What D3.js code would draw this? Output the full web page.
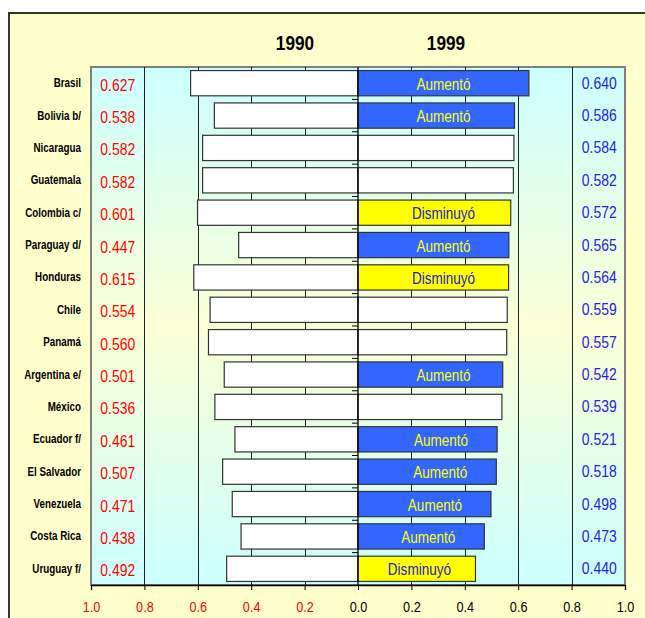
<!DOCTYPE html>
<html>
<head>
<meta charset="utf-8">
<script src="https://cdn.jsdelivr.net/npm/d3@7"></script>
<style>
  html, body { margin: 0; padding: 0; background: #ffffff; }
  svg { display: block; }
  text { font-family: "Liberation Sans Narrow", "Arial Narrow", "Liberation Sans", Arial, sans-serif; }
</style>
</head>
<body>
<svg id="chart" width="645" height="618"></svg>
<script>
const countries = ["Brasil", "Bolivia b/", "Nicaragua", "Guatemala", "Colombia c/", "Paraguay d/", "Honduras", "Chile", "Panamá", "Argentina e/", "México", "Ecuador f/", "El Salvador", "Venezuela", "Costa Rica", "Uruguay f/"];
const values1990 = [0.627, 0.538, 0.582, 0.582, 0.601, 0.447, 0.615, 0.554, 0.560, 0.501, 0.536, 0.461, 0.507, 0.471, 0.438, 0.492];
const values1999 = [0.640, 0.586, 0.584, 0.582, 0.572, 0.565, 0.564, 0.559, 0.557, 0.542, 0.539, 0.521, 0.518, 0.498, 0.473, 0.440];
const changeLabels = ["Aumentó", "Aumentó", "", "", "Disminuyó", "Aumentó", "Disminuyó", "", "", "Aumentó", "", "Aumentó", "Aumentó", "Aumentó", "Aumentó", "Disminuyó"];
const yearTitles = ["1990", "1999"];
const tickValues = [-1, -0.8, -0.6, -0.4, -0.2, 0, 0.2, 0.4, 0.6, 0.8, 1];

const rows = countries.map((c, i) => ({ c, v90: values1990[i], v99: values1999[i], lab: changeLabels[i] }));

const svg = d3.select("#chart");
const W = 645, H = 618;
const plot = { left: 91, right: 625, top: 67, bottom: 585 };

// narrow-font emulation: check whether a condensed font is present
const probe = svg.append("text").attr("font-size", 20).text("Aumentó 0.627");
const probeW = probe.node().getComputedTextLength();
probe.remove();
const SX = probeW > 110 ? 0.82 : 1;

const x = d3.scaleLinear().domain([-1, 1]).range([plot.left, plot.right]);
const y = d3.scaleBand().domain(countries).range([plot.top, plot.bottom]).paddingInner(0.22).paddingOuter(0.11);
const yStep = (plot.bottom - plot.top) / countries.length;

function narrowText(sel, fx, fy) {
  return sel.attr("x", 0).attr("y", 0)
    .attr("transform", (d, i) => `translate(${fx(d, i)},${fy(d, i)}) scale(${SX},1)`);
}

// Gradient
const defs = svg.append("defs");
const grad = defs.append("linearGradient").attr("id", "bg").attr("x1", 0).attr("y1", 0).attr("x2", 0).attr("y2", 1);
grad.append("stop").attr("offset", "0%").attr("stop-color", "#ccffff");
grad.append("stop").attr("offset", "50%").attr("stop-color", "#fbffd6");
grad.append("stop").attr("offset", "100%").attr("stop-color", "#ccffff");

// Outer frame
svg.append("rect").attr("x", 9).attr("y", 13).attr("width", W + 20).attr("height", H + 20)
  .attr("fill", "#ffffcc").attr("stroke", "#333333").attr("stroke-width", 2);

// Plot area
svg.append("rect").attr("x", plot.left).attr("y", plot.top)
  .attr("width", plot.right - plot.left).attr("height", plot.bottom - plot.top)
  .attr("fill", "url(#bg)").attr("stroke", "#808080").attr("stroke-width", 2);

// Gridlines
svg.append("g").selectAll("line").data(tickValues.filter(t => Math.abs(t) > 0.01 && Math.abs(t) < 0.99))
  .join("line")
  .attr("x1", d => Math.round(x(d)) + 0.5).attr("x2", d => Math.round(x(d)) + 0.5)
  .attr("y1", plot.top).attr("y2", plot.bottom)
  .attr("stroke", "#222222").attr("stroke-width", 1);

// Titles
narrowText(svg.append("g").selectAll("text").data(yearTitles).join("text"),
    (d, i) => i === 0 ? 295 : 446, () => 50)
  .attr("text-anchor", "middle")
  .attr("font-size", 21).attr("font-weight", "bold").attr("fill", "#000")
  .text(d => d);

// Bars 1990 (left)
svg.append("g").selectAll("rect").data(rows).join("rect")
  .attr("x", d => x(-d.v90)).attr("y", d => y(d.c))
  .attr("width", d => x(0) - x(-d.v90)).attr("height", y.bandwidth())
  .attr("fill", "#ffffff").attr("stroke", "#333333").attr("stroke-width", 1.2);

// Bars 1999 (right)
const fillFor = l => l === "Aumentó" ? "#3366ff" : (l === "Disminuyó" ? "#ffff00" : "#ffffff");
svg.append("g").selectAll("rect").data(rows).join("rect")
  .attr("x", x(0)).attr("y", d => y(d.c))
  .attr("width", d => x(d.v99) - x(0)).attr("height", y.bandwidth())
  .attr("fill", d => fillFor(d.lab)).attr("stroke", "#333333").attr("stroke-width", 1.2);

// Change labels
narrowText(svg.append("g").selectAll("text").data(rows.filter(d => d.lab)).join("text"),
    d => x(Math.min(0.32, d.v99 - 0.21)),
    d => y(d.c) + y.bandwidth() / 2 + 6.5)
  .attr("text-anchor", "middle")
  .attr("font-size", 16.5)
  .attr("fill", d => d.lab === "Aumentó" ? "#ffff00" : "#2222cc")
  .text(d => d.lab);

// Zero line
svg.append("line").attr("x1", x(0)).attr("x2", x(0)).attr("y1", plot.top).attr("y2", plot.bottom)
  .attr("stroke", "#000").attr("stroke-width", 1.3);
// Category ticks on zero line
svg.append("g").selectAll("line").data(d3.range(1, countries.length)).join("line")
  .attr("x1", x(0) - 6).attr("x2", x(0))
  .attr("y1", d => plot.top + d * yStep).attr("y2", d => plot.top + d * yStep)
  .attr("stroke", "#000").attr("stroke-width", 1);

// Value labels
narrowText(svg.append("g").selectAll("text").data(rows).join("text"),
    () => (x(-1) + x(-0.8)) / 2, d => y(d.c) + y.bandwidth() / 2 + 7.5)
  .attr("text-anchor", "middle").attr("font-size", 17).attr("fill", "#ff0000")
  .text(d => d.v90.toFixed(3));
narrowText(svg.append("g").selectAll("text").data(rows).join("text"),
    () => (x(1) + x(0.8)) / 2 + 1, d => y(d.c) + y.bandwidth() / 2 + 5.5)
  .attr("text-anchor", "middle").attr("font-size", 17).attr("fill", "#2222ee")
  .text(d => d.v99.toFixed(3));

// Country labels
narrowText(svg.append("g").selectAll("text").data(rows).join("text"),
    () => 81, d => y(d.c) + y.bandwidth() / 2 + 4)
  .attr("text-anchor", "end").attr("font-size", 12).attr("font-weight", "bold").attr("fill", "#000")
  .text(d => d.c);

// X axis
const axis = d3.axisBottom(x).tickValues(tickValues).tickSize(5).tickPadding(11.5)
  .tickFormat(d => Math.abs(d).toFixed(1));
const gx = svg.append("g").attr("transform", `translate(0,${plot.bottom})`).call(axis);
gx.select(".domain").attr("stroke", "#000").attr("stroke-width", 1.3);
gx.selectAll(".tick line").attr("stroke", "#000");
gx.selectAll(".tick text")
  .attr("font-family", '"Liberation Sans Narrow", "Arial Narrow", "Liberation Sans", Arial, sans-serif')
  .attr("font-size", 15.5)
  .attr("transform", `scale(${SX},1)`)
  .attr("x", 0)
  .attr("fill", d => d < 0 ? "#ff0000" : "#000");
</script>
</body>
</html>
